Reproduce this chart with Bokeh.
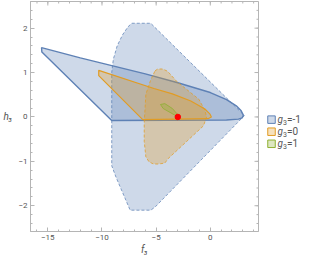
from bokeh.plotting import figure
from bokeh.layouts import row
from bokeh.models import Range1d, FixedTicker
from bokeh.embed import file_html
from bokeh.resources import INLINE
from bokeh.core.properties import value
import numpy as np

# ---------------- data ----------------
X_RANGE = (-16.6, 4.45)
Y_RANGE = (-2.58, 2.6)
x_major_ticks = [-15, -10, -5, 0]
x_minor_ticks = list(range(-16, 5))
y_major_ticks = [-2, -1, 0, 1, 2]
y_minor_ticks = [round(v, 1) for v in np.arange(-2.4, 2.61, 0.2)]

# g3 = -1, dashed region
blue_dash_f3 = [-7.25, -5.5, 3.15, -5.1, -5.5, -7.4, -8.7, -9.1, -9.1, -8.95, -8.6, -8.1, -7.6]
blue_dash_h3 = [2.11, 2.11, 0.03, -2.03, -2.1, -2.1, -1.36, -1.1, 1.0, 1.3, 1.6, 1.85, 2.03]
# g3 = -1, solid region
blue_solid_f3 = [-15.58, -12.0, -9.0, -6.0, -3.0, 0.0, 1.5, 2.4, 2.85, 3.05, 2.95, 2.6, 1.5, -9.1, -15.55]
blue_solid_h3 = [1.56, 1.33, 1.15, 0.97, 0.77, 0.55, 0.39, 0.25, 0.14, 0.04, -0.02, -0.05, -0.07, -0.08, 1.46]
# g3 = 0, dashed region
orange_dash_f3 = [-5.1, -4.85, -4.4, -3.95, -3.06, -1.06, -0.5, -0.34, -0.63, -3.9, -4.2, -4.8, -5.25, -5.66, -5.95, -6.1, -6.1, -5.95, -5.52]
orange_dash_h3 = [1.04, 1.08, 1.08, 1.03, 0.79, 0.4, 0.15, 0.0, -0.2, -0.94, -1.04, -1.06, -1.06, -1.01, -0.9, -0.55, -0.13, 0.51, 0.82]
# g3 = 0, solid region
orange_solid_f3 = [-10.3, -5.2, -3.5, -1.8, -0.5, -0.05, 0.1, -0.2, -6.24, -10.3]
orange_solid_h3 = [1.05, 0.64, 0.52, 0.36, 0.18, 0.07, 0.0, -0.04, -0.06, 0.93]
# g3 = 1 region
green_f3 = [-4.6, -4.2, -3.5, -3.0, -3.2, -4.35]
green_h3 = [0.28, 0.3, 0.19, 0.05, 0.03, 0.19]
# marked point
point_f3 = [-3.0]
point_h3 = [0.0]

legend_values = ["=-1", "=0", "=1"]

BLUE = "#5E81B5"
ORANGE = "#E19C24"
GREEN = "#8FB032"
legend_colors = [BLUE, ORANGE, GREEN]

FRAME = "#b5b5b5"
TEXT = "#555555"
FONT = "Roboto"

# ---------------- main plot ----------------
p = figure(width=260, height=257, title=None,
           x_range=Range1d(*X_RANGE), y_range=Range1d(*Y_RANGE),
           output_backend="svg", toolbar_location=None,
           min_border_left=10, min_border_right=2, min_border_top=1, min_border_bottom=10)
p.grid.visible = False
p.outline_line_color = FRAME
p.background_fill_color = "white"

xt = FixedTicker(ticks=x_major_ticks, minor_ticks=x_minor_ticks)
yt = FixedTicker(ticks=y_major_ticks, minor_ticks=y_minor_ticks)
p.xaxis.ticker = xt
p.yaxis.ticker = yt
for ax in p.xaxis + p.yaxis:
    ax.axis_line_color = FRAME
    ax.major_tick_line_color = FRAME
    ax.minor_tick_line_color = FRAME
    ax.major_tick_in = 4
    ax.major_tick_out = 0
    ax.minor_tick_in = 2
    ax.minor_tick_out = 0
    ax.major_label_text_font = FONT
    ax.major_label_text_font_size = "8px"
    ax.major_label_text_color = TEXT
    ax.major_label_standoff = 3
    ax.axis_label_text_font = FONT
    ax.axis_label_text_font_size = "10px"
    ax.axis_label_text_font_style = "italic"
    ax.axis_label_text_color = TEXT
    ax.axis_label_standoff = 1

p.xaxis.axis_label = "f\u2083"
p.yaxis.axis_label = "h\u2083"
p.yaxis.axis_label_orientation = "horizontal"
p.yaxis.axis_label_standoff = 3

# frame ticks on the top and right edges
p.ray(x_major_ticks, [Y_RANGE[1]] * len(x_major_ticks), length=4, angle=-np.pi / 2,
      length_units="screen", line_color=FRAME, line_width=1)
p.ray(x_minor_ticks, [Y_RANGE[1]] * len(x_minor_ticks), length=2, angle=-np.pi / 2,
      length_units="screen", line_color=FRAME, line_width=1)
p.ray([X_RANGE[1]] * len(y_major_ticks), y_major_ticks, length=4, angle=np.pi,
      length_units="screen", line_color=FRAME, line_width=1)
p.ray([X_RANGE[1]] * len(y_minor_ticks), y_minor_ticks, length=2, angle=np.pi,
      length_units="screen", line_color=FRAME, line_width=1)

p.patch(blue_dash_f3, blue_dash_h3, fill_color=BLUE, fill_alpha=0.3,
        line_color=BLUE, line_alpha=0.75, line_width=1, line_dash="3 2")
p.patch(blue_solid_f3, blue_solid_h3, fill_color=BLUE, fill_alpha=0.3,
        line_color=BLUE, line_width=1.4)
p.patch(orange_dash_f3, orange_dash_h3, fill_color=ORANGE, fill_alpha=0.3,
        line_color=ORANGE, line_alpha=0.75, line_width=1, line_dash="3 2")
p.patch(orange_solid_f3, orange_solid_h3, fill_color=ORANGE, fill_alpha=0.3,
        line_color=ORANGE, line_width=1.2)
p.patch(green_f3, green_h3, fill_color=GREEN, fill_alpha=0.3,
        line_color=GREEN, line_alpha=0.8, line_width=1)
p.scatter(point_f3, point_h3, size=5.5, fill_color="red", line_color="red")

# ---------------- legend panel ----------------
lg = figure(width=42, height=257, title=None, x_range=Range1d(0, 42), y_range=Range1d(257, 0),
            output_backend="svg", toolbar_location=None,
            x_axis_location=None, y_axis_location=None, min_border=0)
lg.grid.visible = False
lg.outline_line_color = None

ys = [132.0, 145.5, 159.0]
lg.scatter([11] * 3, ys, marker="square", size=7.5, fill_color=legend_colors,
           fill_alpha=0.3, line_color=legend_colors, line_width=1)
lg.text([17] * 3, ys, text=["g"] * 3, text_font=value(FONT), text_font_style="italic",
        text_font_size="10px", text_color=TEXT, text_baseline="middle")
lg.text([22.5] * 3, [y + 3 for y in ys], text=["3"] * 3, text_font=value(FONT),
        text_font_size="7px", text_color=TEXT, text_baseline="middle")
lg.text([26.5] * 3, ys, text=legend_values, text_font=value(FONT),
        text_font_size="10px", text_color=TEXT, text_baseline="middle")

layout = row(p, lg, spacing=0)
open("out.html", "w").write(file_html(layout, INLINE))
